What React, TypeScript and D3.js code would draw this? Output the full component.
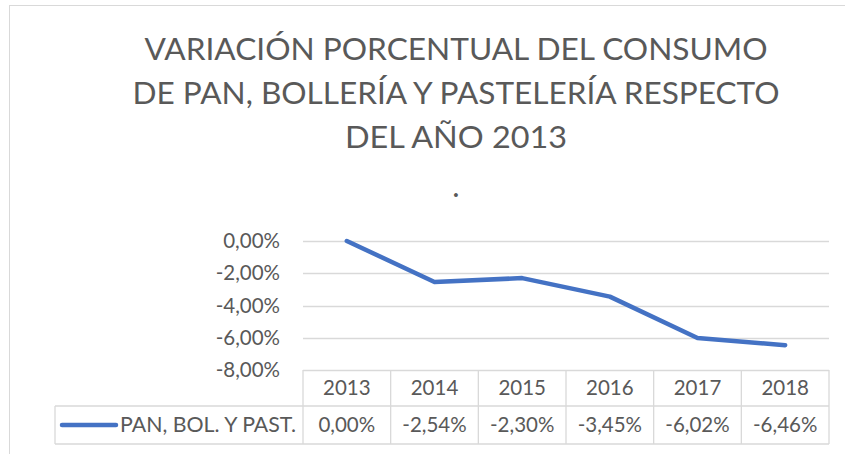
import React, { useEffect, useRef } from 'react';
import * as d3 from 'd3';

// --- Chart data ---
const years = ['2013', '2014', '2015', '2016', '2017', '2018'];
const values = [0, -2.54, -2.3, -3.45, -6.02, -6.46];
const yTicks = [0, -2, -4, -6, -8];
const seriesName = 'PAN, BOL. Y PAST.';
const titleLines = [
  'VARIACIÓN PORCENTUAL DEL CONSUMO',
  'DE PAN, BOLLERÍA Y PASTELERÍA RESPECTO',
  'DEL AÑO 2013',
  '.'
];

const fmt = (v: number) => v.toFixed(2).replace('.', ',') + '%';

const App = () => {
  const ref = useRef<SVGSVGElement | null>(null);

  useEffect(() => {
    if (!ref.current) return;
    const svg = d3.select(ref.current);
    svg.selectAll('*').remove();

    const W = 845, H = 454;
    const font = 'Lato, "Open Sans", sans-serif';
    const textColor = '#595959';
    const gridColor = '#D9D9D9';
    const labelSize = 20.5;
    const plot = { left: 303, right: 829, top: 241, bottom: 370 };
    const row1 = 406, row2 = 444, legendLeft = 55;

    // chart frame
    svg.append('rect').attr('x', 9.5).attr('y', 5.5).attr('width', W + 20).attr('height', H + 20)
      .attr('fill', '#fff').attr('stroke', gridColor).attr('stroke-width', 1);

    // title
    const titleY = [60, 104, 148, 197];
    const titleW = [623, 647, 222, 0];
    svg.selectAll('.title').data(titleLines).enter().append('text')
      .attr('class', 'title')
      .attr('x', 456).attr('y', (d, i) => titleY[i])
      .attr('text-anchor', 'middle')
      .attr('font-family', font).attr('font-weight', 400).attr('font-size', 31)
      .attr('fill', textColor)
      .each(function (d, i) {
        if (titleW[i]) d3.select(this).attr('textLength', titleW[i]).attr('lengthAdjust', 'spacingAndGlyphs');
      })
      .text(d => d);

    const x = d3.scaleBand().domain(years).range([plot.left, plot.right]);
    const y = d3.scaleLinear().domain([-8, 0]).range([plot.bottom, plot.top]);

    // gridlines
    svg.append('g').selectAll('line').data(yTicks.slice(0, -1)).enter().append('line')
      .attr('x1', plot.left).attr('x2', plot.right)
      .attr('y1', d => Math.round(y(d)) + 0.5).attr('y2', d => Math.round(y(d)) + 0.5)
      .attr('stroke', gridColor).attr('stroke-width', 1.3);

    // y tick labels
    svg.append('g').selectAll('text').data(yTicks).enter().append('text')
      .attr('x', 280).attr('y', d => y(d)).attr('dy', '0.35em')
      .attr('text-anchor', 'end')
      .attr('font-family', font).attr('font-size', labelSize).attr('fill', textColor)
      .text(d => fmt(d));

    // data table lines
    const tbl = svg.append('g').attr('stroke', gridColor).attr('stroke-width', 1.3).attr('fill', 'none');
    const cols = years.map(d => x(d) as number).concat([plot.right]);
    tbl.selectAll('.v').data(cols).enter().append('line')
      .attr('x1', d => d).attr('x2', d => d).attr('y1', plot.bottom).attr('y2', row2);
    tbl.append('line').attr('x1', plot.left).attr('x2', plot.right).attr('y1', plot.bottom + 0.5).attr('y2', plot.bottom + 0.5);
    tbl.append('line').attr('x1', legendLeft).attr('x2', plot.right).attr('y1', row1).attr('y2', row1);
    tbl.append('line').attr('x1', legendLeft).attr('x2', plot.right).attr('y1', row2).attr('y2', row2);
    tbl.append('line').attr('x1', legendLeft).attr('x2', legendLeft).attr('y1', row1).attr('y2', row2);

    // year labels
    svg.append('g').selectAll('text').data(years).enter().append('text')
      .attr('x', d => (x(d) as number) + x.bandwidth() / 2).attr('y', (plot.bottom + row1) / 2).attr('dy', '0.35em')
      .attr('text-anchor', 'middle').attr('font-family', font).attr('font-size', labelSize).attr('fill', textColor)
      .text(d => d);

    // value labels
    svg.append('g').selectAll('text').data(values).enter().append('text')
      .attr('x', (d, i) => (x(years[i]) as number) + x.bandwidth() / 2).attr('y', (row1 + row2) / 2).attr('dy', '0.35em')
      .attr('text-anchor', 'middle').attr('font-family', font).attr('font-size', labelSize).attr('fill', textColor)
      .text(d => fmt(d));

    // legend key
    const ly = (row1 + row2) / 2;
    svg.append('line').attr('x1', 62).attr('x2', 116).attr('y1', ly).attr('y2', ly)
      .attr('stroke', '#4472C4').attr('stroke-width', 4.5).attr('stroke-linecap', 'round');
    svg.append('text').attr('x', 296).attr('y', ly).attr('dy', '0.35em').attr('text-anchor', 'end')
      .attr('font-family', font).attr('font-size', labelSize).attr('fill', textColor)
      .attr('textLength', 176).attr('lengthAdjust', 'spacingAndGlyphs')
      .text(seriesName);

    // series line
    const line = d3.line<number>()
      .x((d, i) => (x(years[i]) as number) + x.bandwidth() / 2)
      .y(d => y(d));
    svg.append('path').datum(values).attr('d', line)
      .attr('fill', 'none').attr('stroke', '#4472C4').attr('stroke-width', 4.5)
      .attr('stroke-linejoin', 'round').attr('stroke-linecap', 'round');
  }, []);

  return (
    <svg ref={ref} width={845} height={454}
      style={{ position: 'absolute', left: 0, top: 0, background: '#fff' }} />
  );
};

export default App;
